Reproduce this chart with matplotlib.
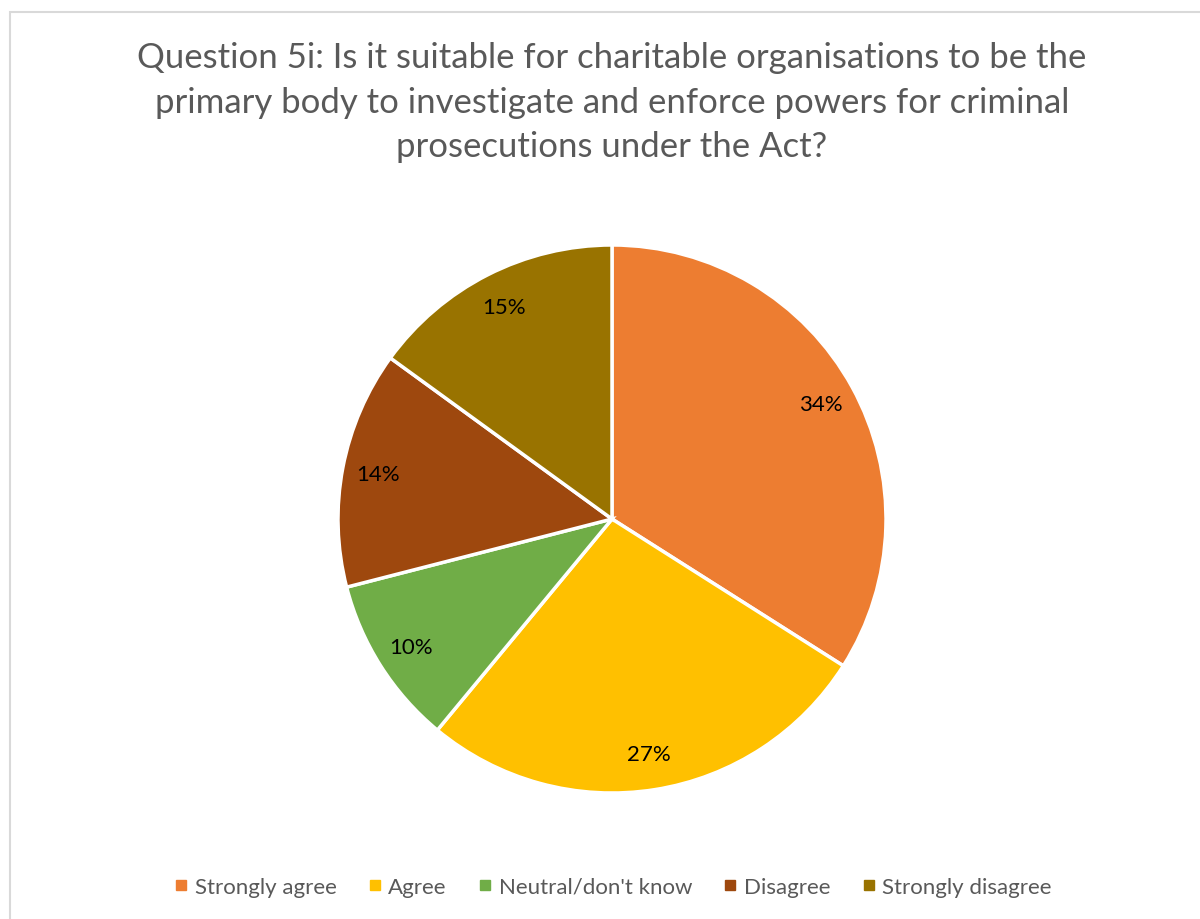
import matplotlib
matplotlib.use('Agg')
import matplotlib.pyplot as plt
from matplotlib.patches import Rectangle
from matplotlib.lines import Line2D

plt.rcParams['font.family'] = ['Lato', 'DejaVu Sans']

# Survey responses
title = ("Question 5i: Is it suitable for charitable organisations to be the\n"
         "primary body to investigate and enforce powers for criminal\n"
         "prosecutions under the Act?")
categories = ['Strongly agree', 'Agree', "Neutral/don't know", 'Disagree', 'Strongly disagree']
shares = [34, 27, 10, 14, 15]
colors = ['#ED7D31', '#FFC000', '#70AD47', '#9E480E', '#997300']

W, H = 1200, 920
fig = plt.figure(figsize=(W / 100, H / 100), dpi=100)

# chart frame
fig.patches.append(Rectangle((10 / W, -0.05), 1.1, 1 - 13 / H + 0.05, transform=fig.transFigure,
                             fill=False, edgecolor='#D9D9D9', linewidth=1.5))

cx, cy, r = 612, 520, 274
ax = fig.add_axes([(cx - r) / W, (H - cy - r) / H, 2 * r / W, 2 * r / H])
wedges, texts, autotexts = ax.pie(shares, colors=colors, startangle=90, counterclock=False,
                                  radius=1, autopct='%d%%', pctdistance=0.87,
                                  wedgeprops=dict(edgecolor='white', linewidth=2.5),
                                  textprops=dict(fontsize=16, color='#000000'))
ax.set_xlim(-1, 1)
ax.set_ylim(-1, 1)
ax.set_aspect('equal')
ax.axis('off')

fig.text(cx / W, 1 - 42 / H, title, ha='center', va='top', fontsize=25,
         color='#595959', linespacing=1.49)

handles = [Line2D([], [], marker='s', linestyle='none', markersize=7,
                  markerfacecolor=c, markeredgecolor=c) for c in colors]
fig.legend(handles, categories, loc='center', bbox_to_anchor=(cx / W, 1 - 888 / H), ncol=5,
           frameon=False, fontsize=16, labelcolor='#595959', handletextpad=0.2,
           columnspacing=1.33, handlelength=0.8)

fig.savefig('out.png', dpi=100, facecolor='white')
